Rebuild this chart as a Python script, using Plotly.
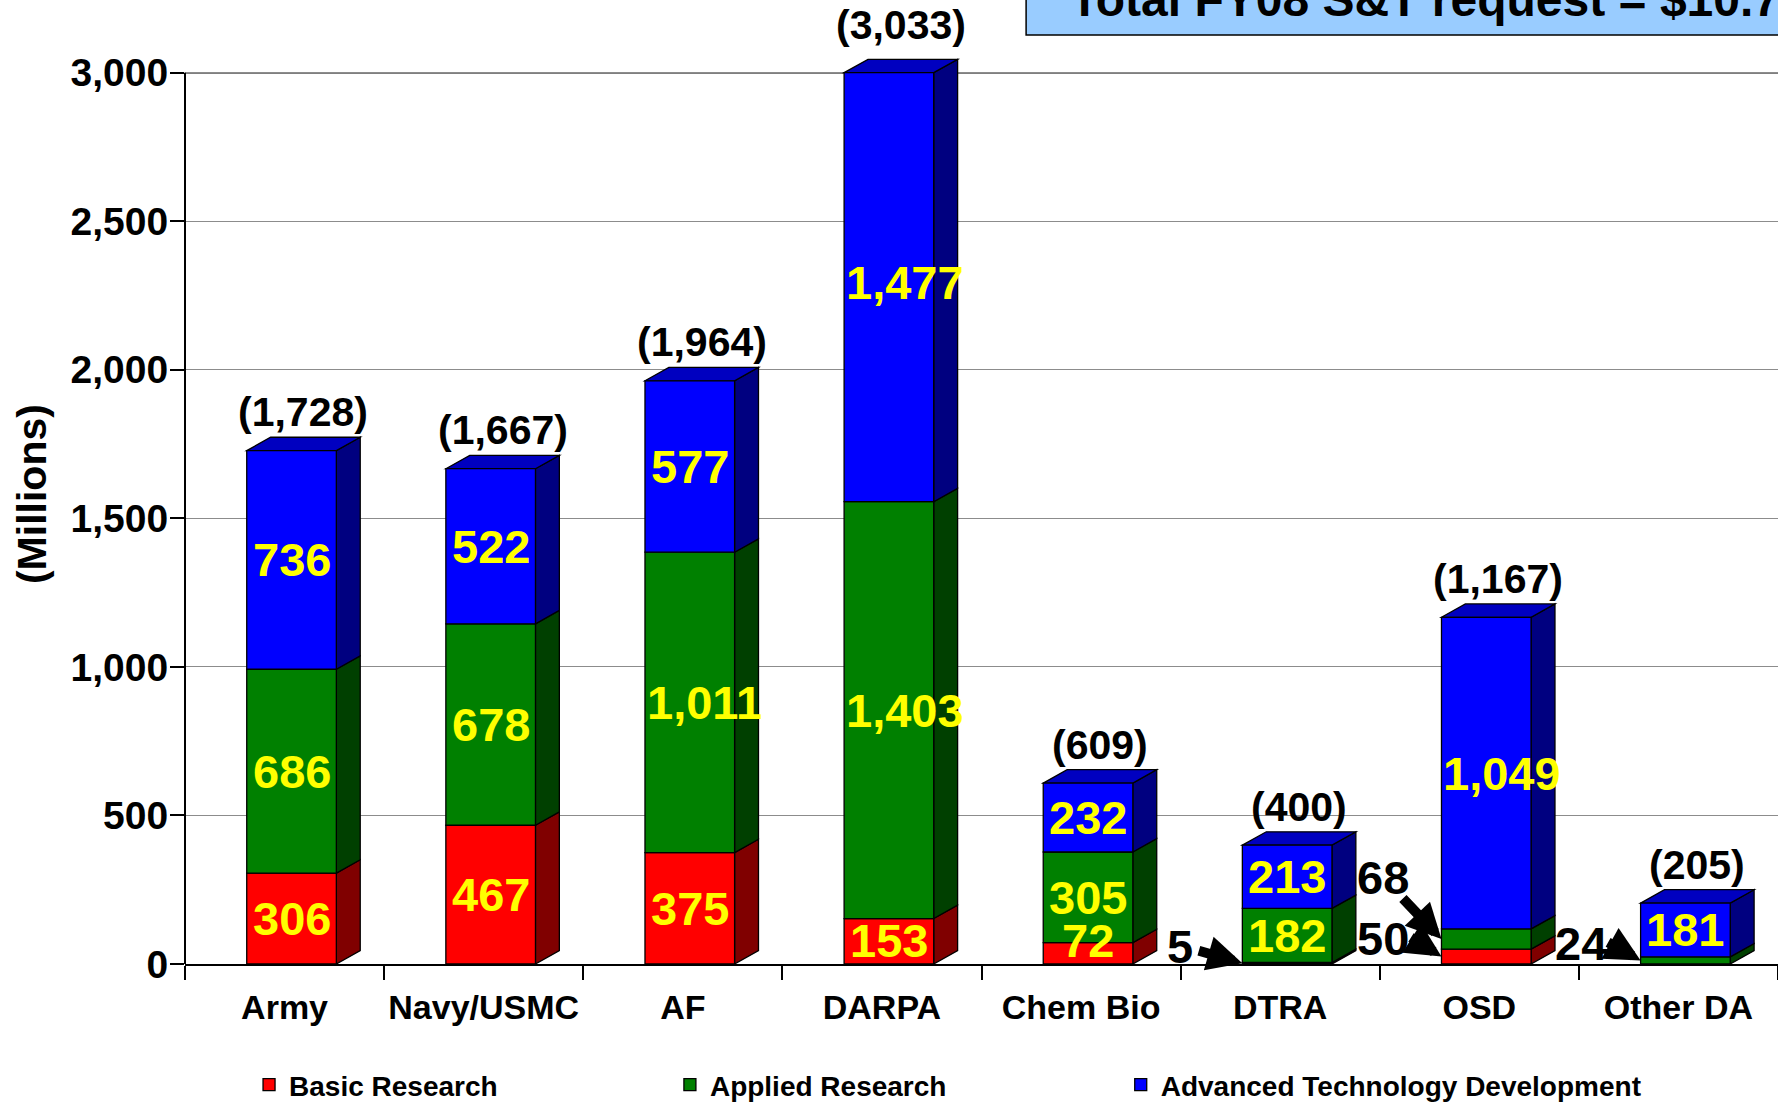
import plotly.graph_objects as go

# ---------------- data ----------------
categories = ["Army", "Navy/USMC", "AF", "DARPA", "Chem Bio", "DTRA", "OSD", "Other DA"]
basic_research = [306, 467, 375, 153, 72, 5, 50, 0]
applied_research = [686, 678, 1011, 1403, 305, 182, 68, 24]
advanced_tech_dev = [736, 522, 577, 1477, 232, 213, 1049, 181]
total_labels = ["(1,728)", "(1,667)", "(1,964)", "(3,033)", "(609)", "(400)", "(1,167)", "(205)"]
series_names = ["Basic Research", "Applied Research", "Advanced Technology Development"]
y_tick_values = [0, 500, 1000, 1500, 2000, 2500, 3000]
y_tick_labels = ["0", "500", "1,000", "1,500", "2,000", "2,500", "3,000"]
y_axis_title = "(Millions)"
box_title = "Total FY08 S&T request = $10.7B"

# ---------------- style ----------------
FONT = "Liberation Sans, Arial, sans-serif"
FRONT_OFF = -0.19
FRONT_W = 0.45
DX = 0.12           # depth in category units
DY = 45             # depth in value units
Y_MAX = 3000        # axis maximum (bars clipped here like the original)
Y_RANGE_TOP = 3110
INSIDE_MIN = 70     # smaller segments are labelled with an arrow
WIDE_MIN = 1000     # labels this large are left-aligned on the front face
LABEL_MIN_Y = 78    # keep inside labels above the axis line

front_colors = ["#FF0000", "#008000", "#0000FF"]
side_colors = ["#800000", "#004000", "#000080"]
top_colors = ["#C00000", "#006000", "#0000C0"]
# pixel offsets for arrow-labelled segments, relative to the arrow tip:
# (category index, series index) -> (text dx, text dy, tail dx, tail dy)
arrow_offsets = {
    (5, 0): (-62, -17, -45, -13),
    (6, 1): (-58, -62, -40, -42),
    (6, 0): (-58, -18, -32, -20),
    (7, 1): (-60, -17, -34, -19),
}
legend_x = [0.0402, 0.3044, 0.5874]
legend_ids = ["legend", "legend2", "legend3"]

series = [basic_research, applied_research, advanced_tech_dev]
n = len(categories)
xs = list(range(n))

fig = go.Figure()
shapes = []
annotations = []
cum = [0] * n
top_of = [0] * n
for s, vals in enumerate(series):
    base_clip = [min(c, Y_MAX) for c in cum]
    top_clip = [min(c + v, Y_MAX) for c, v in zip(cum, vals)]
    heights = [t - b for t, b in zip(top_clip, base_clip)]
    fig.add_trace(go.Bar(
        x=xs, y=heights, base=base_clip, name=series_names[s], legend=legend_ids[s],
        offset=FRONT_OFF, width=FRONT_W,
        marker=dict(color=front_colors[s], line=dict(color="black", width=1.3)),
        hovertext=[f"{c}: {v:,}" for c, v in zip(categories, vals)], hoverinfo="text",
    ))
    for i in range(n):
        v = vals[i]
        if v <= 0:
            continue
        x1 = i + FRONT_OFF + FRONT_W
        y0, y1 = base_clip[i], top_clip[i]
        shapes.append(dict(
            type="path", xref="x", yref="y", layer="between",
            path=f"M{x1},{y0} L{x1 + DX},{y0 + DY} L{x1 + DX},{y1 + DY} L{x1},{y1} Z",
            fillcolor=side_colors[s], line=dict(color="black", width=1.3)))
        top_of[i] = (s, y1)
        mid = cum[i] + v / 2
        if v >= INSIDE_MIN:
            if v >= WIDE_MIN:
                xa, anchor = i + FRONT_OFF, "left"
            else:
                xa, anchor = i + FRONT_OFF + FRONT_W / 2, "center"
            annotations.append(dict(
                x=xa, y=max(mid, LABEL_MIN_Y), xref="x", yref="y", xanchor=anchor,
                text=f"{v:,}", showarrow=False,
                font=dict(family=FONT, size=47, color="#FFFF00", weight="bold")))
        else:
            tdx, tdy, adx, ady = arrow_offsets.get((i, s), (-60, -18, -35, -18))
            # arrow (tail -> tip at the segment)
            annotations.append(dict(
                x=i + FRONT_OFF, y=mid, xref="x", yref="y",
                text="", showarrow=True, ax=adx, ay=ady,
                arrowhead=2, arrowsize=0.7, arrowwidth=10, arrowcolor="black",
                standoff=0, startstandoff=0))
            # value text
            annotations.append(dict(
                x=i + FRONT_OFF, y=mid, xref="x", yref="y", xshift=tdx, yshift=-tdy,
                text=f"{v:,}", showarrow=False,
                font=dict(family=FONT, size=47, color="black", weight="bold")))
    cum = [c + v for c, v in zip(cum, vals)]

# top faces + totals
for i in range(n):
    s, yt = top_of[i]
    x0 = i + FRONT_OFF
    x1 = x0 + FRONT_W
    shapes.append(dict(
        type="path", xref="x", yref="y", layer="between",
        path=f"M{x0},{yt} L{x0 + DX},{yt + DY} L{x1 + DX},{yt + DY} L{x1},{yt} Z",
        fillcolor=top_colors[s], line=dict(color="black", width=1.3)))
    annotations.append(dict(
        x=i + FRONT_OFF + (FRONT_W + DX) / 2, y=cum[i] + DY,
        xref="x", yref="y", yanchor="bottom", text=total_labels[i], showarrow=False,
        font=dict(family=FONT, size=41, color="black", weight="bold")))

# axis lines / top line
shapes.append(dict(type="line", xref="paper", yref="y", x0=0, x1=1, y0=Y_MAX, y1=Y_MAX,
                   line=dict(color="black", width=1.5), layer="between"))
shapes.append(dict(type="line", xref="paper", yref="y", x0=0, x1=0, y0=0, y1=Y_MAX,
                   line=dict(color="black", width=2), layer="above"))

# title box (partly off the page, as in the original)
shapes.append(dict(type="rect", xref="paper", yref="paper", x0=0.528, x1=1.05, y0=1.0054, y1=1.2,
                   fillcolor="#99CCFF", line=dict(color="black", width=1.5), layer="above"))
annotations.append(dict(
    x=0.5543, y=1.0125, xref="paper", yref="paper", xanchor="left", yanchor="bottom",
    text=box_title, showarrow=False,
    font=dict(family=FONT, size=48, color="black", weight="bold")))

# y axis title
annotations.append(dict(
    x=-0.096, y=0.5087, xref="paper", yref="paper", xanchor="center", yanchor="middle",
    text=y_axis_title, textangle=-90,
    showarrow=False, font=dict(family=FONT, size=41, color="black", weight="bold")))

legend_common = dict(orientation="h", xanchor="left", yref="container", y=0.0172, yanchor="middle",
                     font=dict(family=FONT, size=28, color="black", weight="bold"),
                     bgcolor="rgba(0,0,0,0)")

fig.update_layout(
    width=1778, height=1104,
    margin=dict(l=185, r=0, t=40, b=140, pad=0, autoexpand=False),
    paper_bgcolor="white", plot_bgcolor="white",
    barmode="overlay",
    font=dict(family=FONT, color="black"),
    shapes=shapes, annotations=annotations,
    showlegend=True,
    legend=dict(x=legend_x[0], **legend_common),
    legend2=dict(x=legend_x[1], **legend_common),
    legend3=dict(x=legend_x[2], **legend_common),
    xaxis=dict(
        range=[-0.5, n - 0.5], tickmode="array", tickvals=xs, ticktext=categories,
        ticks="", showgrid=False, zeroline=False,
        showline=True, linecolor="black", linewidth=2,
        tickfont=dict(family=FONT, size=34, color="black", weight="bold"),
        ticklabelstandoff=12,
        minor=dict(tickmode="array", tickvals=[i - 0.5 for i in range(n + 1)],
                   ticks="outside", ticklen=14, tickwidth=1.5, tickcolor="black", showgrid=False),
    ),
    yaxis=dict(
        range=[0, Y_RANGE_TOP], tickmode="array", tickvals=y_tick_values, ticktext=y_tick_labels,
        ticks="outside", ticklen=14, tickwidth=1.5, tickcolor="black",
        showgrid=True, gridcolor="#8C8C8C", gridwidth=1, zeroline=False, showline=False,
        tickfont=dict(family=FONT, size=39, color="black", weight="bold"),
        ticklabelstandoff=-6,
    ),
)

fig.write_html("out.html", config={"displayModeBar": False},
               post_script="document.body.style.margin='0';document.body.style.overflow='hidden';")
